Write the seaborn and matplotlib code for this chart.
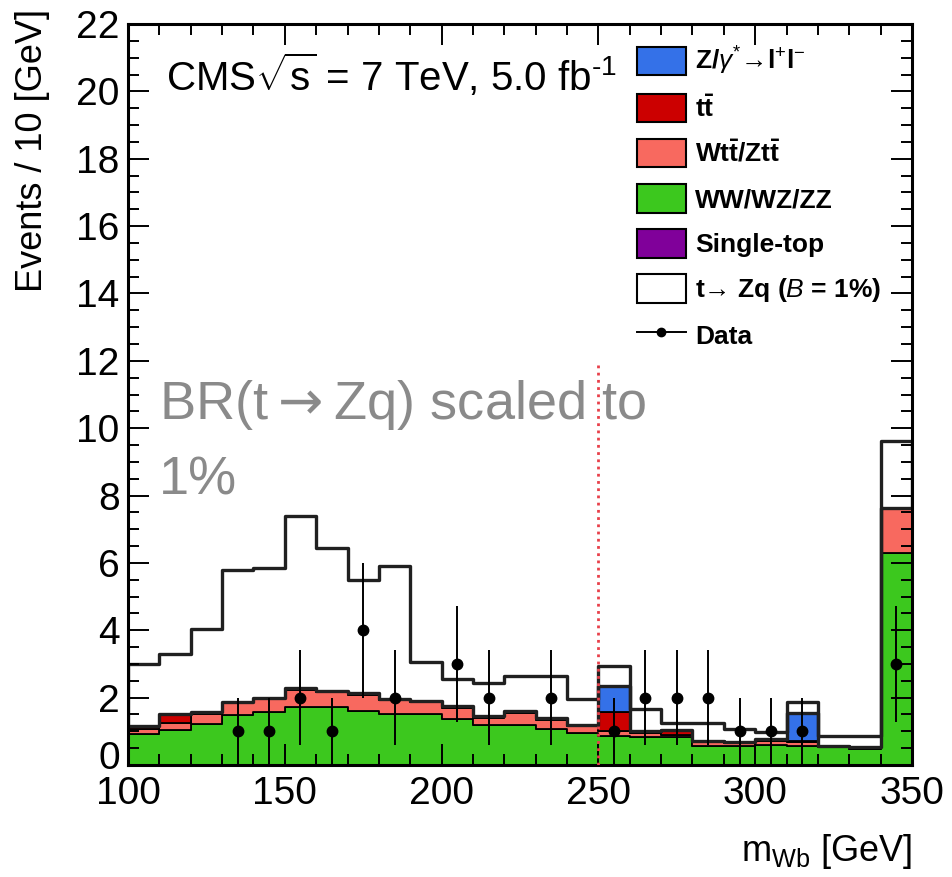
import numpy as np
import pandas as pd
import matplotlib
matplotlib.use("Agg")
import matplotlib.pyplot as plt
import matplotlib.transforms as mtransforms
import seaborn as sns
from matplotlib.patches import Patch
from matplotlib.lines import Line2D
from matplotlib.ticker import MultipleLocator

# ---------------- data (10 GeV bins, 100-350 GeV) ----------------
bin_edges = [100, 110, 120, 130, 140, 150, 160, 170, 180, 190, 200, 210, 220,
             230, 240, 250, 260, 270, 280, 290, 300, 310, 320, 330, 340, 350]

diboson = [0.93, 1.04, 1.22, 1.48, 1.58, 1.71, 1.73, 1.60, 1.52, 1.52, 1.37, 1.19,
           1.19, 1.07, 0.95, 0.87, 0.82, 0.82, 0.57, 0.57, 0.60, 0.57, 0.52, 0.47, 6.29]
ttv = [0.15, 0.20, 0.30, 0.36, 0.38, 0.52, 0.44, 0.48, 0.40, 0.34, 0.32, 0.22,
       0.36, 0.28, 0.20, 0.15, 0.12, 0.06, 0.10, 0.07, 0.12, 0.10, 0.04, 0.04, 1.34]
ttbar = [0.08, 0.26, 0.04, 0.04, 0.04, 0.05, 0.04, 0.05, 0.03, 0.04, 0.05, 0.05,
         0.04, 0.05, 0.04, 0.54, 0.07, 0.15, 0.05, 0.03, 0.05, 0.05, 0.01, 0.01, 0.0]
single_top = [0.0] * 25
zgamma = [0.0, 0.0, 0.0, 0.0, 0.0, 0.0, 0.0, 0.0, 0.0, 0.0, 0.0, 0.0,
          0.0, 0.0, 0.0, 0.80, 0.0, 0.0, 0.0, 0.0, 0.0, 0.81, 0.0, 0.0, 0.0]
signal = [1.84, 1.80, 2.49, 3.92, 3.85, 5.12, 4.24, 3.37, 3.95, 1.17, 0.80, 0.98,
          1.05, 1.24, 0.78, 0.59, 0.65, 0.23, 0.54, 0.39, 0.20, 0.35, 0.30, 0.34, 1.99]
data_counts = [0, 0, 0, 1, 1, 2, 1, 4, 2, 0, 3, 2, 0, 2, 0, 1, 2, 2, 2, 1, 1, 1, 0, 0, 3]

proc_names = ["WW/WZ/ZZ", "Wtt/Ztt", "tt", "Single-top", "Zgamma", "signal"]
proc_values = [diboson, ttv, ttbar, single_top, zgamma, signal]
proc_colors = {"WW/WZ/ZZ": "#3cc81e", "Wtt/Ztt": "#f8695f", "tt": "#cc0000",
               "Single-top": "#80009a", "Zgamma": "#3471e8", "signal": "#ffffff"}

legend_labels = [r"Z/$\gamma^{*}$→l$^{+}$l$^{-}$", r"$\mathbf{t\bar{t}}$",
                 r"Wt$\mathbf{\bar{t}}$/Zt$\mathbf{\bar{t}}$", "WW/WZ/ZZ", "Single-top",
                 r"t→ Zq ($\mathit{B}$ = 1%)", "Data"]

# ---------------- style ----------------
plt.rcParams["font.family"] = ["Liberation Sans", "DejaVu Sans"]
plt.rcParams["mathtext.fontset"] = "custom"
plt.rcParams["mathtext.rm"] = "Liberation Sans"
plt.rcParams["mathtext.it"] = "Liberation Sans:italic"
plt.rcParams["mathtext.bf"] = "Liberation Sans:bold"

edges = np.array(bin_edges, dtype=float)
centers = 0.5 * (edges[:-1] + edges[1:])

rows = []
for name, vals in zip(proc_names, proc_values):
    for c, v in zip(centers, vals):
        rows.append({"mwb": float(c), "w": float(v), "proc": name})
df = pd.DataFrame(rows)

fig = plt.figure(figsize=(9.52, 8.77), dpi=100)
ax = fig.add_axes([128 / 952, 112 / 877, 784 / 952, 741 / 877])

# seaborn stacks the first hue level on top
hue_order = list(reversed(proc_names))
sns.histplot(data=df, x="mwb", weights="w", hue="proc", hue_order=hue_order,
             bins=len(bin_edges) - 1, binrange=(bin_edges[0], bin_edges[-1]),
             multiple="stack", element="step", fill=True,
             palette=proc_colors, edgecolor="black", linewidth=1.3, alpha=1,
             legend=False, ax=ax)

for coll in ax.collections:
    fc = coll.get_facecolor()
    if len(fc) and np.allclose(fc[0][:3], 1.0):
        coll.set_linewidth(2.4)
        coll.set_edgecolor("#202020")

# data points with sqrt(N) errors
counts = np.array(data_counts, dtype=float)
mask = counts > 0
ax.errorbar(centers[mask], counts[mask], yerr=np.sqrt(counts[mask]), fmt="o",
            color="black", ms=7.5, elinewidth=1.4, capsize=0, zorder=5)

# red dotted line at 250 GeV
ax.plot([250, 250], [0, 12], color="#e8404a", lw=2.0, ls=(0, (1.0, 1.6)), zorder=4)

ax.set_xlim(100, 350)
ax.set_ylim(0, 22)
ax.xaxis.set_major_locator(MultipleLocator(50))
ax.xaxis.set_minor_locator(MultipleLocator(10))
ax.yaxis.set_major_locator(MultipleLocator(2))
ax.yaxis.set_minor_locator(MultipleLocator(0.5))
ax.tick_params(which="both", direction="in", top=True, right=True, width=1.4,
               labelsize=28, colors="black")
ax.tick_params(which="major", length=15)
ax.tick_params(which="minor", length=8)
ax.tick_params(axis="x", pad=8)
ax.tick_params(axis="y", pad=6)
for s in ax.spines.values():
    s.set_linewidth(2.2)
    s.set_color("black")

ax.set_ylabel("Events / 10 [GeV]", fontsize=26, loc="top")
ax.yaxis.set_label_coords(-0.1, 1.02)
ax.set_xlabel(r"m$_{\mathrm{Wb}}$ [GeV]", fontsize=26, loc="right", labelpad=14)

ax.text(112.0, 20.0, r"CMS$\sqrt{\mathrm{s}}$ = 7 TeV, 5.0 fb$^{\text{-}1}$", fontsize=29,
        va="baseline", ha="left")
ax.text(109.8, 10.27, r"BR(t$\rightarrow$Zq) scaled to", fontsize=39, color="#8a8a8a",
        va="baseline", ha="left", zorder=3, math_fontfamily="dejavusans")
ax.text(109.8, 8.03, "1%", fontsize=39, color="#8a8a8a",
        va="baseline", ha="left", zorder=3)

handles = [Patch(facecolor=proc_colors["Zgamma"], edgecolor="black", lw=1.5),
           Patch(facecolor=proc_colors["tt"], edgecolor="black", lw=1.5),
           Patch(facecolor=proc_colors["Wtt/Ztt"], edgecolor="black", lw=1.5),
           Patch(facecolor=proc_colors["WW/WZ/ZZ"], edgecolor="black", lw=1.5),
           Patch(facecolor=proc_colors["Single-top"], edgecolor="black", lw=1.5),
           Patch(facecolor="white", edgecolor="black", lw=1.5),
           Line2D([], [], color="black", marker="o", ms=6, lw=1.4)]
leg = fig.legend(handles, legend_labels, loc="upper left",
                 bbox_to_anchor=(637 / 952, 1 - 45 / 877), bbox_transform=fig.transFigure,
                 frameon=False, borderpad=0, borderaxespad=0,
                 prop={"size": 19, "weight": "bold"},
                 handlelength=1.84, handleheight=1.3, handletextpad=0.36,
                 labelspacing=0.62)

# ROOT-style: lift the "0" label of the y axis a little
fig.canvas.draw()
offset = mtransforms.ScaledTranslation(0, 10 / 100, fig.dpi_scale_trans)
for tick in ax.yaxis.get_major_ticks():
    if abs(tick.get_loc()) < 1e-9:
        tick.label1.set_transform(tick.label1.get_transform() + offset)

fig.savefig("out.png", dpi=100)
